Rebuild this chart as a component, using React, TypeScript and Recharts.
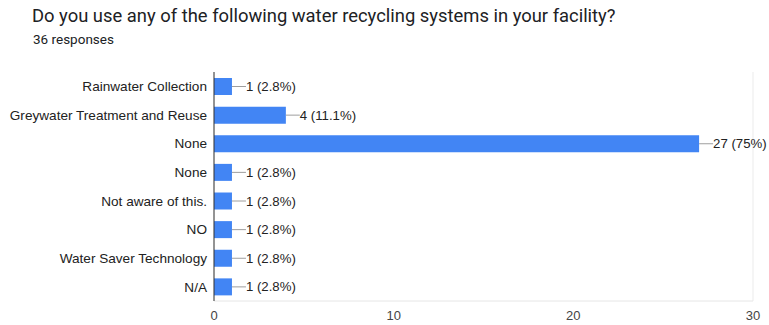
import React from 'react';
import { BarChart, Bar, XAxis, YAxis, CartesianGrid, LabelList } from 'recharts';

const categories = [
  'Rainwater Collection',
  'Greywater Treatment and Reuse',
  'None',
  'None',
  'Not aware of this.',
  'NO',
  'Water Saver Technology',
  'N/A',
];
const counts = [1, 4, 27, 1, 1, 1, 1, 1];
const totalResponses = 36;
const majorTicks = [0, 10, 20, 30];
const minorTicks = [0, 5, 10, 15, 20, 25, 30];

const data = categories.map((name, i) => ({ name, count: counts[i] }));

const fmtPct = (v: number) => {
  const p = Math.round((v / totalResponses) * 1000) / 10;
  return `${p}%`;
};

const BarLabel = (props: any) => {
  const { x, y, width, height, value } = props;
  const endX = x + width;
  const cy = y + height / 2;
  return (
    <g>
      <line x1={endX} x2={endX + 14} y1={cy} y2={cy} stroke="#9e9e9e" strokeWidth={1} />
      <text
        x={endX + 14}
        y={cy}
        dy="0.35em"
        fill="#222"
        fontSize={13.2}
        fontFamily="'Liberation Sans', Arial, sans-serif"
      >
        {`${value} (${fmtPct(value)})`}
      </text>
    </g>
  );
};

export default function App() {
  return (
    <div style={{ position: 'absolute', left: 0, top: 0, width: 769, height: 325, background: '#fff' }}>
      <div
        style={{
          position: 'absolute',
          left: 32,
          top: 5,
          fontFamily: 'Roboto, sans-serif',
          fontSize: 18.4,
          color: '#202124',
          whiteSpace: 'nowrap',
        }}
      >
        Do you use any of the following water recycling systems in your facility?
      </div>
      <div
        style={{
          position: 'absolute',
          left: 33,
          top: 31,
          fontFamily: 'Roboto, sans-serif',
          fontSize: 13.5,
          color: '#202124',
        }}
      >
        36 responses
      </div>
      <BarChart
        width={769}
        height={325}
        data={data}
        layout="vertical"
        margin={{ top: 72, right: 16, left: 0, bottom: 0 }}
        barCategoryGap={6}
      >
        <CartesianGrid xAxisId="minor" horizontal={false} stroke="#ebebeb" />
        <XAxis
          xAxisId="minor"
          type="number"
          domain={[0, 30]}
          ticks={minorTicks}
          hide
        />
        <XAxis
          type="number"
          domain={[0, 30]}
          ticks={majorTicks}
          height={24}
          tickLine={false}
          axisLine={{ stroke: '#e6e6e6' }}
          tick={{ fill: '#444', fontSize: 13, fontFamily: "'Liberation Sans', Arial, sans-serif" }}
          tickMargin={4}
        />
        <YAxis
          type="category"
          dataKey="name"
          width={214}
          tickLine={false}
          axisLine={{ stroke: '#333' }}
          tick={{ fill: '#222', fontSize: 13.6, fontFamily: "'Liberation Sans', Arial, sans-serif" }}
          tickMargin={1}
          interval={0}
        />
        <Bar dataKey="count" fill="#4285f4" barSize={17} isAnimationActive={false}>
          <LabelList dataKey="count" content={BarLabel} />
        </Bar>
      </BarChart>
    </div>
  );
}
